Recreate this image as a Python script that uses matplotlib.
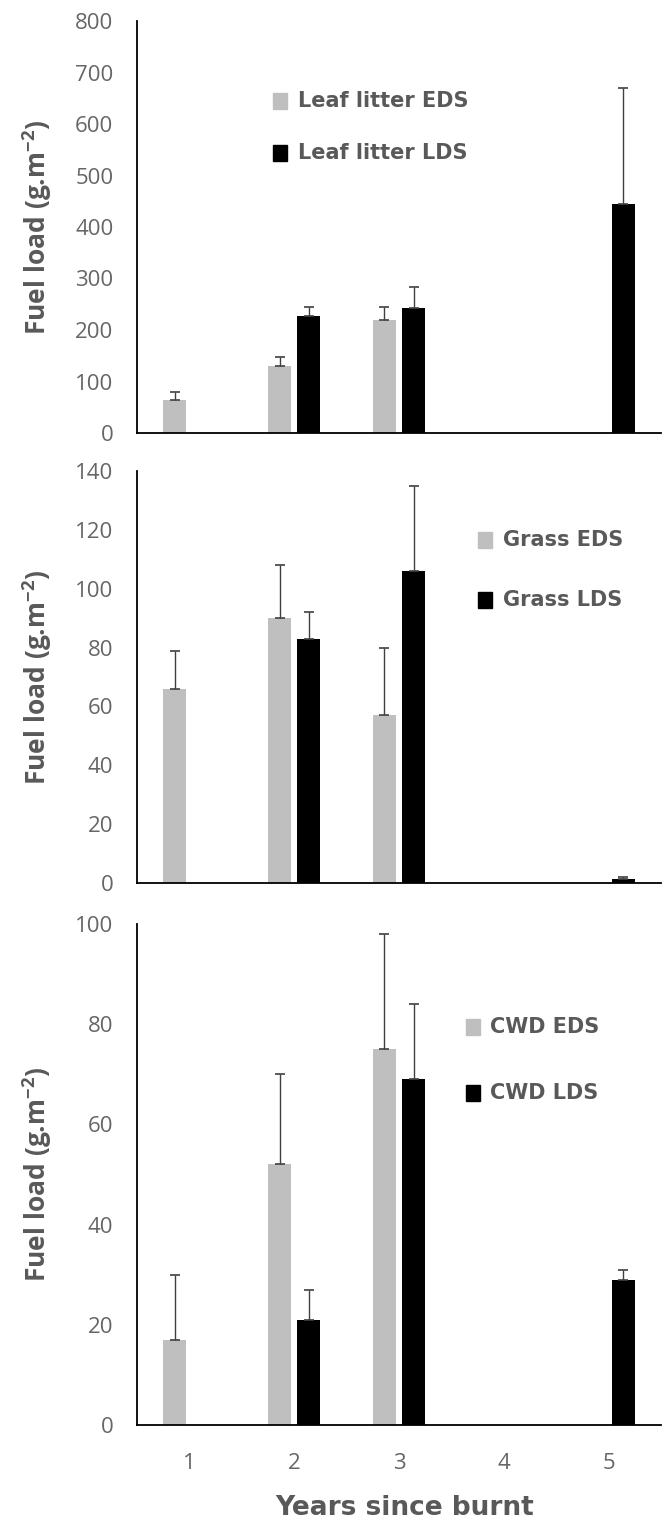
import matplotlib
matplotlib.use("Agg")
import matplotlib.pyplot as plt
from matplotlib.patches import Rectangle
import numpy as np

plt.rcParams['font.family'] = ['Open Sans', 'DejaVu Sans']
plt.rcParams['mathtext.default'] = 'regular'

years = [1, 2, 3, 4, 5]

# fuel loads (g/m2), nan = no bar; errors are upper only
leaf_eds = [65, 130, 220, np.nan, np.nan]
leaf_eds_err = [15, 18, 25, 0, 0]
leaf_lds = [np.nan, 228, 242, np.nan, 445]
leaf_lds_err = [0, 17, 41, 0, 225]

grass_eds = [66, 90, 57, np.nan, np.nan]
grass_eds_err = [13, 18, 23, 0, 0]
grass_lds = [np.nan, 83, 106, np.nan, 1.5]
grass_lds_err = [0, 9, 29, 0, 0.5]

cwd_eds = [17, 52, 75, np.nan, np.nan]
cwd_eds_err = [13, 18, 23, 0, 0]
cwd_lds = [np.nan, 21, 69, np.nan, 29]
cwd_lds_err = [0, 6, 15, 0, 2]

panels = [
    ("Leaf litter", leaf_eds, leaf_eds_err, leaf_lds, leaf_lds_err, 800, 100),
    ("Grass", grass_eds, grass_eds_err, grass_lds, grass_lds_err, 140, 20),
    ("CWD", cwd_eds, cwd_eds_err, cwd_lds, cwd_lds_err, 100, 20),
]

W, H = 672.0, 1525.0
# axes in pixels: (top, bottom)
ax_px = [(21, 433), (471, 883), (924, 1425)]
x0, x1 = 137, 661
# legend: handle left x, text x, row y's
leg_px = [(273, 298, 101, 153), (478, 503, 540, 600), (466, 490, 1027, 1093)]

grey = '#bfbfbf'
txt = '#595959'
errc = '#404040'

fig = plt.figure(figsize=(6.72, 15.25), dpi=100)
x = np.array(years)
w = 0.22
off = 0.14
for i, (name, eds, edse, lds, ldse, ymax, step) in enumerate(panels):
    top, bot = ax_px[i]
    ax = fig.add_axes([x0 / W, 1 - bot / H, (x1 - x0) / W, (bot - top) / H])
    eds = np.array(eds, dtype=float)
    lds = np.array(lds, dtype=float)
    ax.bar(x - off, eds, w, color=grey)
    ax.bar(x + off, lds, w, color='black')
    m = ~np.isnan(eds)
    ax.errorbar(x[m] - off, eds[m], yerr=[np.zeros(m.sum()), np.array(edse)[m]],
                fmt='none', ecolor=errc, elinewidth=1, capsize=3.5, capthick=1.2)
    m = ~np.isnan(lds)
    ax.errorbar(x[m] + off, lds[m], yerr=[np.zeros(m.sum()), np.array(ldse)[m]],
                fmt='none', ecolor=errc, elinewidth=1, capsize=3.5, capthick=1.2)
    ax.set_xlim(0.5, 5.5)
    ax.set_ylim(0, ymax)
    ax.set_yticks(np.arange(0, ymax + step, step))
    for s in ['top', 'right']:
        ax.spines[s].set_visible(False)
    ax.spines['left'].set_linewidth(1.3)
    ax.spines['bottom'].set_linewidth(1.3)
    ax.tick_params(length=0, labelsize=16, labelcolor='#666666', pad=17)
    ax.set_ylabel('Fuel load (g.m$^{-2}$)', fontsize=19, fontweight='bold', color=txt)
    ax.yaxis.set_label_coords((54 - x0) / (x1 - x0), 0.5)
    if i < 2:
        ax.set_xticks([])
    else:
        ax.set_xticks(years)
        ax.tick_params(axis='x', pad=20)
        ax.set_xlabel('Years since burnt', fontsize=19, fontweight='bold', color=txt,
                      family='DejaVu Sans')
        ax.xaxis.set_label_coords(0.51, -0.14)

    # legend drawn as boxes + labels
    hx, tx, ya, yb = leg_px[i]
    for yy, c, lab in [(ya, grey, name + ' EDS'), (yb, 'black', name + ' LDS')]:
        fig.add_artist(Rectangle((hx / W, 1 - (yy + 8) / H), 14 / W, 16 / H,
                                 transform=fig.transFigure, color=c))
        fig.text(tx / W, 1 - yy / H, lab, fontsize=15, fontweight='bold',
                 color=txt, va='center', ha='left', family='DejaVu Sans')

fig.savefig('out.png', dpi=100)
